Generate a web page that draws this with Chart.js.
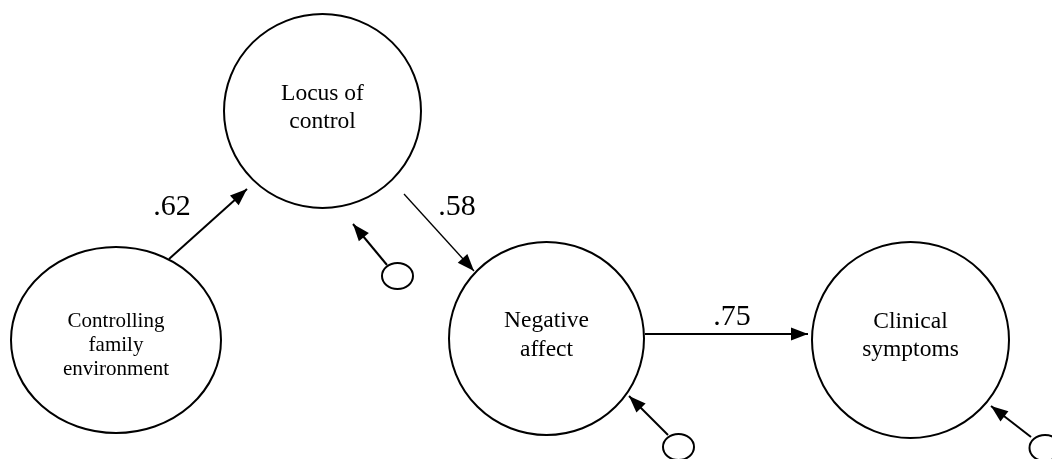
<!DOCTYPE html>
<html>
<head>
<meta charset="utf-8">
<script src="https://cdn.jsdelivr.net/npm/chart.js@4/dist/chart.umd.min.js"></script>
<style>
html, body { margin: 0; padding: 0; background: #fff; }
canvas { display: block; }
</style>
</head>
<body>
<canvas id="path-chart" width="1052" height="459"></canvas>
<script>
// latent variables (diagram units, y grows downward)
var nodeLabels = [["Locus of", "control"], ["Controlling", "family", "environment"], ["Negative", "affect"], ["Clinical", "symptoms"]];
var nodeX = [322.5, 116, 546.5, 910.5];
var nodeY = [111, 340, 338.5, 340];
var nodeRx = [98.5, 105, 97.5, 98.5];
var nodeRy = [97, 93, 96.5, 98];

// structural paths and their coefficients
var coefLabels = [".62", ".58", ".75"];
var pathFrom = [[169, 259], [404, 194], [645, 334]];
var pathTo = [[247, 189], [474, 271], [808, 334]];
var coefX = [172, 457, 732];
var coefY = [215, 215, 325];

// residual terms
var errX = [397.5, 678.5, 1045];
var errY = [276, 447, 448];
var errFrom = [[387, 265], [668, 435], [1031, 437]];
var errTo = [[353, 224], [629, 396], [991, 406]];

var labelFont = [23.5, 21, 23.5, 23.5];
var labelBase = [100, 327, 327, 328];
var labelGap = [28, 24, 29, 28];

var datasets = [];
for (var i = 0; i < pathFrom.length; i++) {
  datasets.push({
    data: [{x: pathFrom[i][0], y: pathFrom[i][1]}, {x: pathTo[i][0], y: pathTo[i][1]}],
    showLine: true, borderColor: '#000', borderWidth: i == 1 ? 1.3 : 2, pointRadius: 0, arrow: true
  });
}
for (var i = 0; i < errFrom.length; i++) {
  datasets.push({
    data: [{x: errFrom[i][0], y: errFrom[i][1]}, {x: errTo[i][0], y: errTo[i][1]}],
    showLine: true, borderColor: '#000', borderWidth: 2, pointRadius: 0, arrow: true
  });
}

var diagramPlugin = {
  id: 'diagram',
  afterDatasetsDraw: function(chart) {
    var ctx = chart.ctx;
    var xs = chart.scales.x, ys = chart.scales.y;
    function px(v) { return xs.getPixelForValue(v); }
    function py(v) { return ys.getPixelForValue(v); }
    ctx.save();
    ctx.strokeStyle = '#000';
    ctx.fillStyle = '#000';

    // big ellipses
    ctx.lineWidth = 2;
    for (var i = 0; i < nodeX.length; i++) {
      var cx = px(nodeX[i]), cy = py(nodeY[i]);
      var rx = Math.abs(px(nodeX[i] + nodeRx[i]) - cx);
      var ry = Math.abs(py(nodeY[i] + nodeRy[i]) - cy);
      ctx.beginPath();
      ctx.ellipse(cx, cy, rx, ry, 0, 0, Math.PI * 2);
      ctx.stroke();
    }
    // residual ellipses
    for (var i = 0; i < errX.length; i++) {
      var cx = px(errX[i]), cy = py(errY[i]);
      var rx = Math.abs(px(errX[i] + 15.5) - cx);
      var ry = Math.abs(py(errY[i] + 13) - cy);
      ctx.beginPath();
      ctx.ellipse(cx, cy, rx, ry, 0, 0, Math.PI * 2);
      ctx.stroke();
    }

    // arrow heads
    chart.data.datasets.forEach(function(ds) {
      if (!ds.arrow) return;
      var a = ds.data[0], b = ds.data[1];
      var x0 = px(a.x), y0 = py(a.y), x1 = px(b.x), y1 = py(b.y);
      var ang = Math.atan2(y1 - y0, x1 - x0);
      var len = 17, hw = 6.5;
      ctx.beginPath();
      ctx.moveTo(x1, y1);
      ctx.lineTo(x1 - len * Math.cos(ang) + hw * Math.sin(ang), y1 - len * Math.sin(ang) - hw * Math.cos(ang));
      ctx.lineTo(x1 - len * Math.cos(ang) - hw * Math.sin(ang), y1 - len * Math.sin(ang) + hw * Math.cos(ang));
      ctx.closePath();
      ctx.fill();
    });

    // text
    ctx.textAlign = 'center';
    ctx.textBaseline = 'alphabetic';
    for (var i = 0; i < nodeLabels.length; i++) {
      ctx.font = labelFont[i] + 'px "Liberation Serif", "Times New Roman", serif';
      for (var j = 0; j < nodeLabels[i].length; j++) {
        ctx.fillText(nodeLabels[i][j], px(nodeX[i]), py(labelBase[i] + j * labelGap[i]));
      }
    }
    ctx.font = '30px "Liberation Serif", "Times New Roman", serif';
    for (var i = 0; i < coefLabels.length; i++) {
      ctx.fillText(coefLabels[i], px(coefX[i]), py(coefY[i]));
    }
    ctx.restore();
  }
};

new Chart(document.getElementById('path-chart'), {
  type: 'scatter',
  data: { datasets: datasets },
  options: {
    responsive: false,
    animation: false,
    devicePixelRatio: 1,
    layout: { padding: 0 },
    plugins: { legend: { display: false }, tooltip: { enabled: false } },
    scales: {
      x: { type: 'linear', min: 0, max: 1052, display: false },
      y: { type: 'linear', min: 0, max: 459, reverse: true, display: false }
    }
  },
  plugins: [diagramPlugin]
});
</script>
</body>
</html>
